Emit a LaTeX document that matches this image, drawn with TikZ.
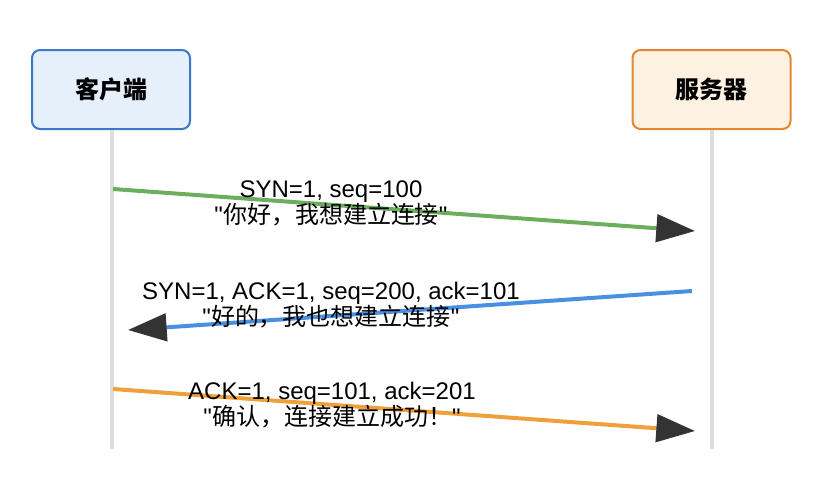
\documentclass[tikz,border=0pt]{standalone}
\usepackage{fontspec}
\newfontfamily\arial{Liberation Sans}
\newfontfamily\cjk{Noto Sans CJK SC}
\usetikzlibrary{arrows.meta}
\definecolor{cfill}{HTML}{E6F0FB}
\definecolor{cstroke}{HTML}{3A78C8}
\definecolor{sfill}{HTML}{FDF2E1}
\definecolor{sstroke}{HTML}{E5852F}
\definecolor{lgreen}{HTML}{6BAF5E}
\definecolor{lblue}{HTML}{4A90E2}
\definecolor{lorange}{HTML}{F0A03A}
\definecolor{headc}{HTML}{333333}
\definecolor{lifec}{HTML}{DDDDDD}
\tikzset{
  actor/.style={draw, line width=1.5pt, rounded corners=6pt, minimum width=118.5pt, minimum height=59.25pt, font=\fontsize{18}{20}\selectfont\cjk\bfseries},
  lifeline/.style={draw=lifec, line width=3pt},
  msg/.style={line width=3pt, -{Triangle[length=29pt,width=20.5pt,color=headc]}},
  lbl/.style={align=center, inner sep=0pt, font=\fontsize{18}{19.5}\selectfont\arial},
}
\begin{document}
\begin{tikzpicture}[x=0.75pt,y=-0.75pt]
\useasboundingbox (0,0) rectangle (826,494);
\node[actor, fill=cfill, draw=cstroke] (client) at (111,89.5) {客户端};
\node[actor, fill=sfill, draw=sstroke] (server) at (711.5,89.5) {服务器};
\coordinate (cend) at (112,449);
\coordinate (send) at (712,449);
\draw[lifeline] (client.south -| cend) -- (cend);
\draw[lifeline] (server.south -| send) -- (send);
\coordinate (m1a) at (113,189);
\coordinate (m1b) at (695,231);
\coordinate (m2a) at (692,291);
\coordinate (m2b) at (128,330);
\coordinate (m3a) at (113,389);
\coordinate (m3b) at (695,431);
\draw[msg, lgreen] (m1a) -- (m1b);
\draw[msg, lblue] (m2a) -- (m2b);
\draw[msg, lorange] (m3a) -- (m3b);
\node[lbl] (l1) at (331,203) {SYN=1, seq=100\\"{\cjk 你好，我想建立连接}"};
\node[lbl] (l2) at (331,305) {SYN=1, ACK=1, seq=200, ack=101\\"{\cjk 好的，我也想建立连接}"};
\node[lbl] (l3) at (332,405) {ACK=1, seq=101, ack=201\\"{\cjk 确认，连接建立成功！}"};
\end{tikzpicture}
\end{document}
